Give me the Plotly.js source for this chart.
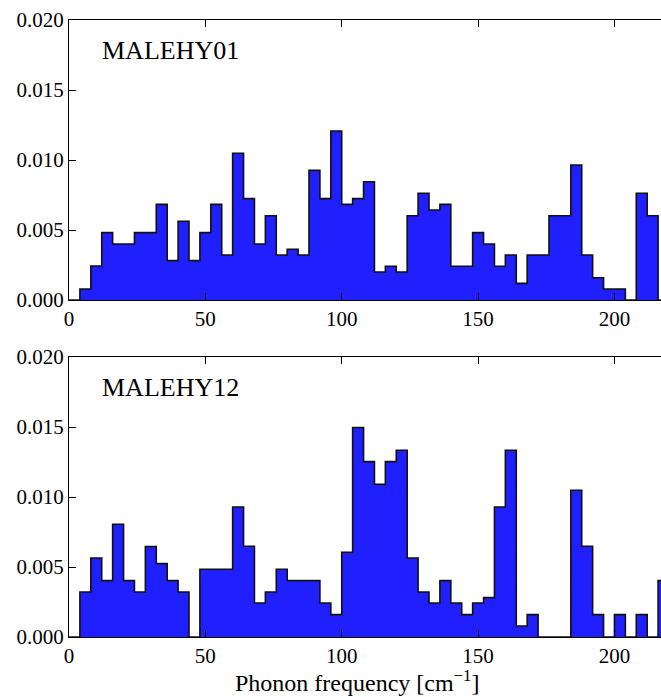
<!DOCTYPE html>
<html>
<head>
<meta charset="utf-8">
<script src="https://cdn.plot.ly/plotly-3.0.1.min.js"></script>
<style>
html, body { margin: 0; padding: 0; overflow: hidden; background: #fff; }
#chart { width: 669px; height: 697px; }
</style>
</head>
<body>
<div id="chart"></div>
<script>
// Histogram bin width (cm^-1); bins start at 0
const binWidth = 4;

// MALEHY01 normalized phonon DOS per bin (0-4, 4-8, ... 216-220)
const malehy01 = [0, 0.00079, 0.00243, 0.00481, 0.0040, 0.0040, 0.00481, 0.00481, 0.00683, 0.00281, 0.00562, 0.00281, 0.00481,
  0.00683, 0.00321, 0.01048, 0.00724, 0.0040, 0.00602, 0.00321, 0.00362, 0.00321, 0.00926, 0.00724, 0.01207,
  0.00683, 0.00724, 0.00845, 0.0020, 0.00241, 0.0020, 0.00602, 0.00762, 0.00643, 0.00683, 0.00241, 0.00241, 0.00481, 0.0040,
  0.00241, 0.00321, 0.00119, 0.00321, 0.00321, 0.00602, 0.00602, 0.00964, 0.00321, 0.00159, 0.00079, 0.00079, 0, 0.00762, 0.00602, 0];

// MALEHY12 normalized phonon DOS per bin
const malehy12 = [0, 0.00321, 0.00564, 0.00403, 0.00805, 0.00403, 0.00321, 0.00646, 0.00524, 0.00403, 0.00321, 0, 0.00484,
  0.00484, 0.00484, 0.00929, 0.00648, 0.00243, 0.00321, 0.00484, 0.00403, 0.00403, 0.00403, 0.00243, 0.0016,
  0.00605, 0.01496, 0.01253, 0.01091, 0.01253, 0.01334, 0.00564, 0.00321, 0.00243, 0.00403, 0.00243, 0.0016, 0.00243, 0.00281,
  0.00929, 0.01334, 0.00079, 0.0016, 0, 0, 0, 0.01048, 0.00648, 0.0016, 0, 0.0016, 0, 0.0016, 0, 0.00403];

const panelLabels = ['MALEHY01', 'MALEHY12'];
const xTicks = [0, 50, 100, 150, 200];
const yTicks = [0, 0.005, 0.010, 0.015, 0.020];
const xTitle = 'Phonon frequency [cm<sup>\u22121</sup>]';

function stepTrace(vals, xa, ya) {
  const edges = [];
  for (let i = 0; i <= vals.length; i++) edges.push(i * binWidth);
  const ys = vals.concat([vals[vals.length - 1]]);
  return {
    type: 'scatter', mode: 'lines', x: edges, y: ys,
    line: { shape: 'hv', color: '#111', width: 1.6 },
    fill: 'tozeroy', fillcolor: '#1f1fff',
    xaxis: xa, yaxis: ya, hoverinfo: 'skip', showlegend: false
  };
}

const FAMILY = 'Liberation Serif, Times New Roman, serif';
function f(size) { return { family: FAMILY, size: size, color: '#000' }; }

function xaxisDef(anchor) {
  return {
    range: [0, 220], anchor: anchor, domain: [0, 1],
    tickvals: xTicks, ticktext: xTicks.map(String),
    ticks: 'inside', ticklen: 7, tickwidth: 1, tickcolor: '#000',
    showline: true, linecolor: '#000', linewidth: 1, mirror: 'ticks',
    showgrid: false, zeroline: false,
    tickfont: f(21)
  };
}
function yaxisDef(anchor, domain) {
  return {
    range: [0, 0.020], anchor: anchor, domain: domain,
    tickvals: yTicks, ticktext: yTicks.map(v => v.toFixed(3)),
    ticks: 'inside', ticklen: 7, tickwidth: 1, tickcolor: '#000',
    showline: true, linecolor: '#000', linewidth: 1, mirror: 'ticks',
    showgrid: false, zeroline: false,
    tickfont: f(21)
  };
}

const data = [stepTrace(malehy01, 'x', 'y'), stepTrace(malehy12, 'x2', 'y2')];

const layout = {
  width: 669, height: 697,
  margin: { l: 69, r: 0, t: 20, b: 60 },
  paper_bgcolor: '#fff', plot_bgcolor: '#fff',
  font: f(21),
  xaxis: xaxisDef('y'),
  yaxis: yaxisDef('x', [0.5462, 1]),
  xaxis2: xaxisDef('y2'),
  yaxis2: yaxisDef('x2', [0, 0.4538]),
  annotations: [
    { text: panelLabels[0], xref: 'x', yref: 'y', x: 11.3, y: 0.0178, xanchor: 'left', yanchor: 'middle',
      showarrow: false, font: f(26) },
    { text: panelLabels[1], xref: 'x2', yref: 'y2', x: 11.3, y: 0.0178, xanchor: 'left', yanchor: 'middle',
      showarrow: false, font: f(26) },
    { text: xTitle, xref: 'paper', yref: 'paper', x: 0.48, y: -0.071, xanchor: 'center', yanchor: 'middle',
      showarrow: false, font: f(24) }
  ]
};

Plotly.newPlot('chart', data, layout, { staticPlot: true, displayModeBar: false });
</script>
</body>
</html>
